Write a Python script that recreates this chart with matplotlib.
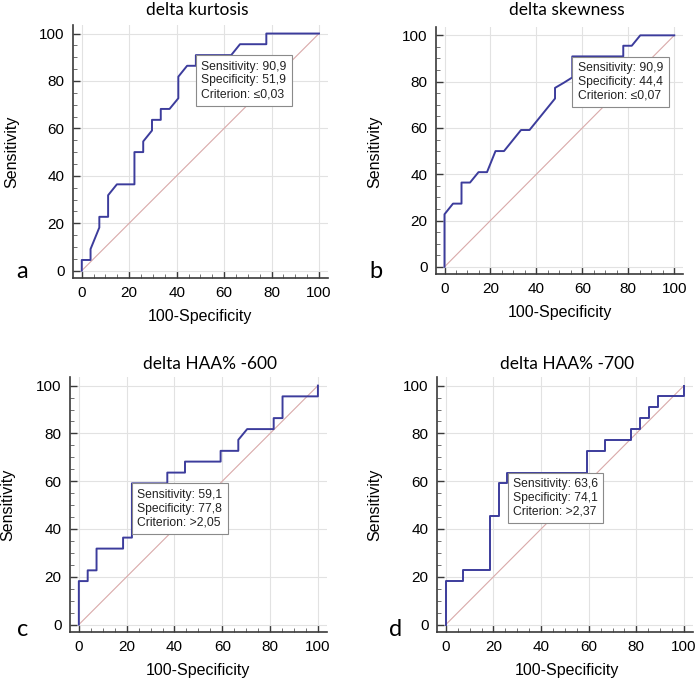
import numpy as np
import matplotlib
matplotlib.use('Agg')
import matplotlib.pyplot as plt
from matplotlib.ticker import MultipleLocator

#%% plot parameters
plt.rcParams.update({
    'font.family': 'Liberation Sans',
    'xtick.labelsize': 11,
    'ytick.labelsize': 11,
})

#%% ROC curves (x = 100-Specificity, y = Sensitivity)
titles = ['delta kurtosis', 'delta skewness', 'delta HAA% -600', 'delta HAA% -700']
letters = ['a', 'b', 'c', 'd']

kurt_x = [0, 0, 3.7, 3.7, 7.4, 7.4, 11.1, 11.1, 14.8, 22.2, 22.2, 25.9, 25.9, 29.6, 29.6,
          33.3, 33.3, 37.0, 40.7, 40.7, 44.4, 48.1, 48.1, 63.0, 66.7, 77.8, 77.8, 100]
kurt_y = [0, 4.5, 4.5, 9.1, 18.2, 22.7, 22.7, 31.8, 36.4, 36.4, 50.0, 50.0, 54.5, 59.1, 63.6,
          63.6, 68.2, 68.2, 72.7, 81.8, 86.4, 86.4, 90.9, 90.9, 95.5, 95.5, 100, 100]

skew_x = [0, 0, 3.7, 7.4, 7.4, 11.1, 14.8, 18.5, 22.2, 25.9, 33.3, 37.0, 48.1, 48.1,
          51.9, 55.6, 55.6, 77.8, 77.8, 81.5, 85.2, 100]
skew_y = [0, 22.7, 27.3, 27.3, 36.4, 36.4, 40.9, 40.9, 50.0, 50.0, 59.1, 59.1, 72.7, 77.3,
          79.5, 81.8, 90.9, 90.9, 95.5, 95.5, 100, 100]

haa600_x = [0, 0, 3.7, 3.7, 7.4, 7.4, 18.5, 18.5, 22.2, 22.2, 37.0, 37.0, 44.4, 44.4,
            59.3, 59.3, 66.7, 66.7, 70.4, 81.5, 81.5, 85.2, 85.2, 100, 100]
haa600_y = [0, 18.2, 18.2, 22.7, 22.7, 31.8, 31.8, 36.4, 36.4, 59.1, 59.1, 63.6, 63.6, 68.2,
            68.2, 72.7, 72.7, 77.3, 81.8, 81.8, 86.4, 86.4, 95.5, 95.5, 100]

haa700_x = [0, 0, 7.4, 7.4, 18.5, 18.5, 22.2, 22.2, 25.9, 25.9, 59.3, 59.3, 66.7, 66.7,
            77.8, 77.8, 81.5, 81.5, 85.2, 85.2, 88.9, 88.9, 100, 100]
haa700_y = [0, 18.2, 18.2, 22.7, 22.7, 45.5, 45.5, 59.1, 59.1, 63.6, 63.6, 72.7, 72.7, 77.3,
            77.3, 81.8, 81.8, 86.4, 86.4, 90.9, 90.9, 95.5, 95.5, 100]

curves_x = [kurt_x, skew_x, haa600_x, haa700_x]
curves_y = [kurt_y, skew_y, haa600_y, haa700_y]

# optimal cut-off: (100-specificity, sensitivity) and box text
cut_x = [48.1, 55.6, 22.2, 25.9]
cut_y = [90.9, 90.9, 59.1, 63.6]
sens = ['90,9', '90,9', '59,1', '63,6']
spec = ['51,9', '44,4', '77,8', '74,1']
crit = ['\u22640,03', '\u22640,07', '>2,05', '>2,37']

#%% figure layout in pixels (left, right, top, bottom of axes box)
W, H = 699, 682
boxes = [(73, 328, 25, 278), (436, 683, 27, 274), (70, 327, 377, 632), (437, 693, 377, 632)]
title_pos = [(197, 10), (567, 10), (210, 364), (567, 364)]
letter_pos = [(22, 271), (376, 271), (23, 630), (396, 629)]
xlab_pos = [(200, 317), (560, 313), (198, 671), (567, 671)]
ylab_pos = [(12, 152), (375, 152), (8, 505), (375, 505)]

fig = plt.figure(figsize=(W / 100, H / 100), dpi=100)

line_col = '#3c3c9c'
diag_col = '#d9a9a9'
grid_col = '#e2e2e2'
spine_col = '#3a3a3a'

for i in range(4):
    l, r, t, b = boxes[i]
    ax = fig.add_axes([l / W, 1 - b / H, (r - l) / W, (b - t) / H])
    ax.set_xlim(-3.7, 103.8)
    ax.set_ylim(-3.1, 103.6)

    ax.plot([0, 100], [0, 100], color=diag_col, lw=0.8, zorder=2)
    ax.plot(curves_x[i], curves_y[i], color=line_col, lw=1.4, zorder=3)

    ax.xaxis.set_major_locator(MultipleLocator(20))
    ax.yaxis.set_major_locator(MultipleLocator(20))
    ax.xaxis.set_minor_locator(MultipleLocator(5))
    ax.yaxis.set_minor_locator(MultipleLocator(5))
    ax.grid(True, which='major', color=grid_col, lw=0.8, zorder=0)
    ax.tick_params(which='major', direction='in', length=5, width=1.0, color=spine_col, pad=6)
    ax.tick_params(which='minor', direction='in', length=3, width=0.7, color='#707070')
    for s in ['top', 'right']:
        ax.spines[s].set_visible(False)
    for s in ['left', 'bottom']:
        ax.spines[s].set_color(spine_col)
        ax.spines[s].set_linewidth(1.2)

    txt = 'Sensitivity: %s\nSpecificity: %s\nCriterion: %s' % (sens[i], spec[i], crit[i])
    ax.annotate(txt, xy=(cut_x[i], cut_y[i]), xytext=(4, -4), textcoords='offset points',
                ha='left', va='top', fontsize=8.7, color='#222222', linespacing=1.2,
                family=['Liberation Sans', 'DejaVu Sans'],
                bbox=dict(boxstyle='square,pad=0.45', fc='white', ec='#8a8a8a', lw=0.8),
                zorder=5)

    tx, ty = title_pos[i]
    fig.text(tx / W, 1 - ty / H, titles[i], ha='center', va='center', fontsize=12.5,
             family='Lato')
    lx, ly = letter_pos[i]
    fig.text(lx / W, 1 - ly / H, letters[i], ha='center', va='center', fontsize=17,
             family='Lato')
    xx, xy = xlab_pos[i]
    fig.text(xx / W, 1 - xy / H, '100-Specificity', ha='center', va='center', fontsize=11.5)
    yx, yy = ylab_pos[i]
    fig.text(yx / W, 1 - yy / H, 'Sensitivity', ha='center', va='center', fontsize=11.5,
             rotation=90)

plt.savefig('out.png', dpi=100)
plt.close()
